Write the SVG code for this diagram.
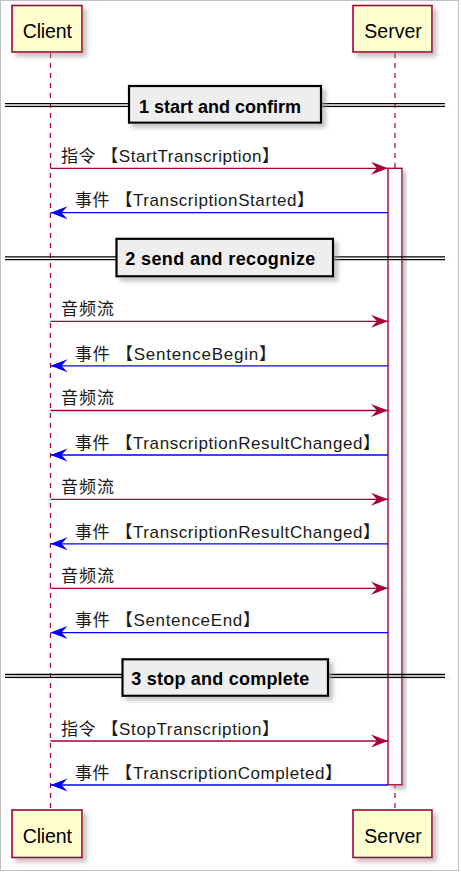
<svg xmlns="http://www.w3.org/2000/svg" width="461" height="872" viewBox="0 0 461 872">
<defs>
<filter id="sh" x="-20%" y="-20%" width="150%" height="150%">
<feGaussianBlur in="SourceAlpha" stdDeviation="2" result="b"/>
<feOffset in="b" dx="4" dy="4" result="o"/>
<feColorMatrix in="o" type="matrix" values="0 0 0 0 0.3  0 0 0 0 0.3  0 0 0 0 0.3  0 0 0 0.55 0" result="c"/>
<feMerge><feMergeNode in="c"/><feMergeNode in="SourceGraphic"/></feMerge>
</filter>
<marker id="ar" viewBox="0 0 18 14" refX="17" refY="7" markerWidth="18" markerHeight="14" markerUnits="userSpaceOnUse" orient="auto">
<polygon points="0,0.5 17,7 0,13.5 6,7" fill="#A80036"/>
</marker>
<marker id="ab" viewBox="0 0 18 14" refX="17" refY="7" markerWidth="18" markerHeight="14" markerUnits="userSpaceOnUse" orient="auto">
<polygon points="0,0.5 17,7 0,13.5 6,7" fill="#0000FF"/>
</marker>
</defs>
<style>
.part rect{fill:#FEFECE;stroke:#A80036;stroke-width:1.6}
.part text{font-family:"Liberation Sans",Arial,sans-serif;font-size:19.5px;fill:#000;text-anchor:middle}
.life{stroke:#A80036;stroke-width:1.2;stroke-dasharray:5,5;fill:none}
.act{fill:#FFFFFF;stroke:#A80036;stroke-width:1.4}
.req{stroke:#A80036;stroke-width:1.3;fill:none;marker-end:url(#ar)}
.rsp{stroke:#0000FF;stroke-width:1.3;fill:none;marker-end:url(#ab)}
.msg{font-family:"Liberation Sans","Noto Sans CJK SC",sans-serif;font-size:17px;fill:#1a1a1a}
.div line{stroke:#000;stroke-width:1.3}
.div rect{fill:#EEEEEE;stroke:#000;stroke-width:2.2}
.div text{font-family:"Liberation Sans",Arial,sans-serif;font-size:18px;font-weight:bold;fill:#000}
</style>
<rect x="0.5" y="0.5" width="458" height="870" fill="#FFFFFF" stroke="#C0C0C0" stroke-width="1"/>

<g id="lifelines">
<line class="life" x1="50.5" y1="53" x2="50.5" y2="810"/>
<line class="life" x1="395" y1="53" x2="395" y2="810"/>
</g>

<g id="activation">
<rect class="act" x="388" y="168.3" width="14" height="616.5" filter="url(#sh)"/>
</g>

<g id="divider1" class="div">
<g filter="url(#sh)">
<line x1="5" y1="103.6" x2="445" y2="103.6"/>
<line x1="5" y1="106.4" x2="445" y2="106.4"/>
</g>
<rect x="129" y="86" width="192" height="36.7" filter="url(#sh)"/>
<text x="139" y="112.7" textLength="162" lengthAdjust="spacing">1 start and confirm</text>
</g>

<g id="divider2" class="div">
<g filter="url(#sh)">
<line x1="5" y1="256.8" x2="445" y2="256.8"/>
<line x1="5" y1="259.6" x2="445" y2="259.6"/>
</g>
<rect x="116.5" y="238.8" width="216.5" height="37.5" filter="url(#sh)"/>
<text x="125.3" y="265" textLength="190" lengthAdjust="spacing">2 send and recognize</text>
</g>

<g id="divider3" class="div">
<g filter="url(#sh)">
<line x1="5" y1="674.5" x2="445" y2="674.5"/>
<line x1="5" y1="677.3" x2="445" y2="677.3"/>
</g>
<rect x="122.5" y="659.3" width="205.5" height="36.5" filter="url(#sh)"/>
<text x="131.3" y="685" textLength="178" lengthAdjust="spacing">3 stop and complete</text>
</g>

<g id="connectors">
<line class="req" x1="50.5" y1="168.3" x2="388" y2="168.3"/>
<line class="rsp" x1="388" y1="212.7" x2="50.5" y2="212.7"/>
<line class="req" x1="50.5" y1="321.3" x2="388" y2="321.3"/>
<line class="rsp" x1="388" y1="365.8" x2="50.5" y2="365.8"/>
<line class="req" x1="50.5" y1="410.5" x2="388" y2="410.5"/>
<line class="rsp" x1="388" y1="455" x2="50.5" y2="455"/>
<line class="req" x1="50.5" y1="499.3" x2="388" y2="499.3"/>
<line class="rsp" x1="388" y1="543.8" x2="50.5" y2="543.8"/>
<line class="req" x1="50.5" y1="588.3" x2="388" y2="588.3"/>
<line class="rsp" x1="388" y1="632.6" x2="50.5" y2="632.6"/>
<line class="req" x1="50.5" y1="741" x2="388" y2="741"/>
<line class="rsp" x1="388" y1="785" x2="50.5" y2="785"/>
</g>

<g id="labels">
<text class="msg" x="61" y="162" textLength="218" lengthAdjust="spacing">指令 【StartTranscription】</text>
<text class="msg" x="75" y="206.3" textLength="239" lengthAdjust="spacing">事件 【TranscriptionStarted】</text>
<text class="msg" x="61" y="315" textLength="53" lengthAdjust="spacing">音频流</text>
<text class="msg" x="75" y="359.5" textLength="201" lengthAdjust="spacing">事件 【SentenceBegin】</text>
<text class="msg" x="61" y="404.2" textLength="53" lengthAdjust="spacing">音频流</text>
<text class="msg" x="75" y="448.7" textLength="305" lengthAdjust="spacing">事件 【TranscriptionResultChanged】</text>
<text class="msg" x="61" y="493" textLength="53" lengthAdjust="spacing">音频流</text>
<text class="msg" x="75" y="537.5" textLength="305" lengthAdjust="spacing">事件 【TranscriptionResultChanged】</text>
<text class="msg" x="61" y="582" textLength="53" lengthAdjust="spacing">音频流</text>
<text class="msg" x="75" y="626.3" textLength="185" lengthAdjust="spacing">事件 【SentenceEnd】</text>
<text class="msg" x="61" y="734.7" textLength="218" lengthAdjust="spacing">指令 【StopTranscription】</text>
<text class="msg" x="75" y="778.7" textLength="267" lengthAdjust="spacing">事件 【TranscriptionCompleted】</text>
</g>

<g id="client-top" class="part">
<rect x="12" y="5.5" width="70" height="46.5" filter="url(#sh)"/>
<text x="47.3" y="37.5" textLength="49" lengthAdjust="spacing">Client</text>
</g>
<g id="server-top" class="part">
<rect x="353" y="5.5" width="79" height="46.5" filter="url(#sh)"/>
<text x="393" y="37.5" textLength="57.5" lengthAdjust="spacing">Server</text>
</g>
<g id="client-bottom" class="part">
<rect x="12" y="810" width="70" height="47.5" filter="url(#sh)"/>
<text x="47.3" y="842.5" textLength="49" lengthAdjust="spacing">Client</text>
</g>
<g id="server-bottom" class="part">
<rect x="353" y="810" width="79" height="47.5" filter="url(#sh)"/>
<text x="393" y="842.5" textLength="57.5" lengthAdjust="spacing">Server</text>
</g>
</svg>
